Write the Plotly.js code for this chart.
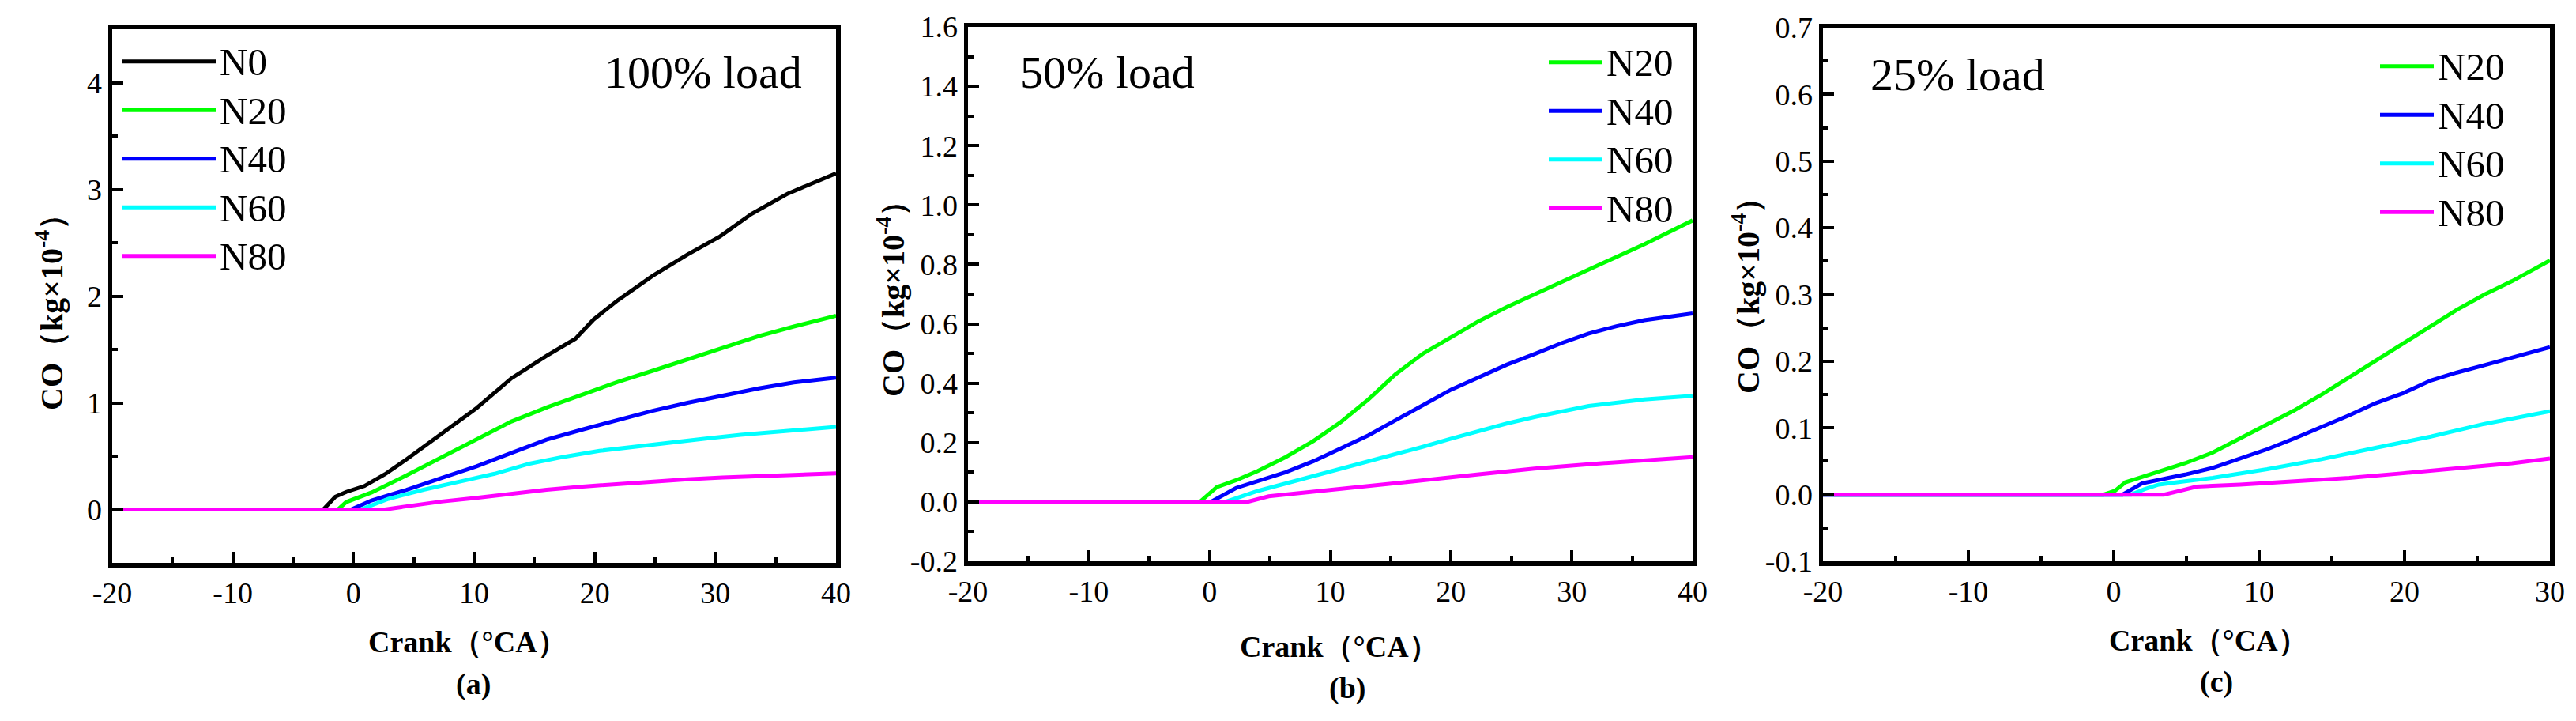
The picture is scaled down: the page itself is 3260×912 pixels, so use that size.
<!DOCTYPE html>
<html>
<head>
<meta charset="utf-8">
<script src="https://cdn.plot.ly/plotly-3.0.1.min.js"></script>
<style>html,body{margin:0;padding:0;background:#fff;}#chart{width:3260px;height:912px;}</style>
</head>
<body>
<div id="chart"></div>
<script>
// ---------- DATA ----------
const seriesNames = ['N0', 'N20', 'N40', 'N60', 'N80'];
const seriesColors = ['#000000', '#00ff00', '#0000ff', '#00ffff', '#ff00ff'];

// (a) 100% load
const aX_N0  = [-20, -2.5, -1.5, -0.6, 0.9, 2.6, 4.4, 7.3, 10.2, 13.1, 16.0, 18.4, 19.9, 21.9, 24.8, 27.7, 30.4, 33.0, 36.0, 40];
const aY_N0  = [0, 0, 0.12, 0.165, 0.22, 0.33, 0.47, 0.715, 0.95, 1.23, 1.44, 1.60, 1.78, 1.96, 2.19, 2.39, 2.56, 2.77, 2.96, 3.15];
const aX_N20 = [-20, -1.3, -0.6, 1.5, 4.4, 7.3, 10.2, 13.1, 16.1, 19.0, 21.9, 24.8, 27.7, 30.6, 33.6, 36.5, 40];
const aY_N20 = [0, 0, 0.07, 0.16, 0.32, 0.49, 0.665, 0.825, 0.96, 1.075, 1.195, 1.30, 1.41, 1.52, 1.625, 1.715, 1.815];
const aX_N40 = [-20, -0.2, 1.5, 4.4, 7.3, 10.2, 13.1, 16.0, 19.0, 21.9, 24.8, 27.7, 30.6, 33.6, 36.5, 40];
const aY_N40 = [0, 0, 0.085, 0.185, 0.295, 0.405, 0.53, 0.655, 0.75, 0.84, 0.925, 1.0, 1.07, 1.135, 1.19, 1.235];
const aX_N60 = [-20, 0.6, 2.9, 5.8, 8.75, 11.7, 14.6, 17.5, 20.4, 23.35, 26.3, 29.2, 32.1, 35.0, 40];
const aY_N60 = [0, 0, 0.10, 0.185, 0.26, 0.335, 0.43, 0.495, 0.55, 0.59, 0.635, 0.665, 0.70, 0.73, 0.775];
const aX_N80 = [-20, 2.6, 4.1, 7.3, 10.2, 13.1, 16.0, 19.0, 21.9, 24.8, 27.7, 30.6, 33.6, 36.5, 40];
const aY_N80 = [0, 0, 0.025, 0.075, 0.11, 0.148, 0.185, 0.215, 0.24, 0.264, 0.284, 0.30, 0.313, 0.326, 0.338];

// (b) 50% load
const bX_N20 = [-20, -0.8, 0.6, 2.2, 4.0, 6.3, 8.6, 10.9, 13.15, 15.4, 17.7, 20.0, 22.3, 24.6, 26.9, 29.15, 31.4, 33.7, 36.0, 40];
const bY_N20 = [0, 0, 0.05, 0.073, 0.104, 0.151, 0.205, 0.27, 0.345, 0.43, 0.50, 0.555, 0.609, 0.656, 0.699, 0.741, 0.783, 0.826, 0.868, 0.948];
const bX_N40 = [-20, 0.1, 2.2, 4.0, 6.3, 8.6, 10.9, 13.15, 15.4, 17.7, 20.0, 22.3, 24.6, 26.9, 29.15, 31.4, 33.7, 36.0, 40];
const bY_N40 = [0, 0, 0.047, 0.07, 0.10, 0.137, 0.18, 0.224, 0.275, 0.327, 0.378, 0.42, 0.462, 0.498, 0.535, 0.567, 0.592, 0.612, 0.635];
const bX_N60 = [-20, 1.3, 4.0, 6.3, 8.6, 10.9, 13.15, 15.4, 17.7, 20.0, 22.3, 24.6, 26.9, 29.15, 31.4, 36.0, 40];
const bY_N60 = [0, 0, 0.037, 0.062, 0.084, 0.109, 0.135, 0.158, 0.186, 0.213, 0.239, 0.264, 0.286, 0.306, 0.323, 0.345, 0.357];
const bX_N80 = [-20, 3.1, 4.9, 8.6, 13.15, 17.7, 22.3, 26.9, 31.4, 36.0, 40];
const bY_N80 = [0, 0, 0.019, 0.034, 0.053, 0.073, 0.093, 0.112, 0.127, 0.14, 0.151];

// (c) 25% load
const cX_N20 = [-20, -0.7, 0.1, 0.8, 1.6, 3.1, 4.9, 6.8, 8.7, 10.55, 12.4, 14.3, 16.2, 18.0, 19.9, 21.8, 23.6, 25.5, 27.4, 30];
const cY_N20 = [0, 0, 0.006, 0.0185, 0.024, 0.034, 0.047, 0.063, 0.084, 0.104, 0.126, 0.15, 0.176, 0.202, 0.228, 0.254, 0.277, 0.30, 0.32, 0.351];
const cX_N40 = [-20, 0.6, 1.95, 3.1, 4.9, 6.8, 8.7, 10.55, 12.4, 14.3, 16.2, 18.0, 19.9, 21.8, 23.6, 25.5, 27.4, 30];
const cY_N40 = [0, 0, 0.017, 0.022, 0.03, 0.04, 0.054, 0.068, 0.084, 0.101, 0.119, 0.137, 0.152, 0.171, 0.183, 0.194, 0.205, 0.221];
const cX_N60 = [-20, 1.2, 2.1, 3.1, 4.9, 6.8, 10.55, 14.3, 18.0, 21.8, 25.5, 30];
const cY_N60 = [0, 0, 0.008, 0.015, 0.02, 0.025, 0.038, 0.053, 0.07, 0.087, 0.106, 0.125];
const cX_N80 = [-20, 3.45, 4.6, 5.7, 8.7, 12.4, 16.2, 19.9, 23.6, 27.4, 30];
const cY_N80 = [0, 0, 0.006, 0.012, 0.015, 0.02, 0.025, 0.032, 0.039, 0.047, 0.054];

// tick labels
const xTickValsAB = [-20, -10, 0, 10, 20, 30, 40];
const xTickTextAB = ['-20', '-10', '0', '10', '20', '30', '40'];
const xTickValsC  = [-20, -10, 0, 10, 20, 30];
const xTickTextC  = ['-20', '-10', '0', '10', '20', '30'];
const yTickValsA  = [0, 1, 2, 3, 4];
const yTickTextA  = ['0', '1', '2', '3', '4'];
const yTickValsB  = [-0.2, 0, 0.2, 0.4, 0.6, 0.8, 1.0, 1.2, 1.4, 1.6];
const yTickTextB  = ['-0.2', '0.0', '0.2', '0.4', '0.6', '0.8', '1.0', '1.2', '1.4', '1.6'];
const yTickValsC  = [-0.1, 0, 0.1, 0.2, 0.3, 0.4, 0.5, 0.6, 0.7];
const yTickTextC  = ['-0.1', '0.0', '0.1', '0.2', '0.3', '0.4', '0.5', '0.6', '0.7'];

const panelTexts = ['100% load', '50% load', '25% load'];
const panelLabels = ['(a)', '(b)', '(c)'];
const xTitle = 'Crank（°CA）';
const yTitle = 'CO（kg×10<sup>-4</sup>）';

// ---------- BUILD ----------
const W = 3260, H = 912;
const FONT = '"Liberation Serif", "Times New Roman", serif';
const fx = px => px / W;
const fy = py => (H - py) / H;

function tr(x, y, idx, xa, ya, leg) {
  return {
    x: x, y: y, type: 'scatter', mode: 'lines',
    name: '<span style="font-size:49px">' + seriesNames[idx] + '</span>', legend: leg,
    xaxis: xa, yaxis: ya,
    line: {color: seriesColors[idx], width: 5},
    hoverinfo: 'skip'
  };
}

const data = [
  tr(aX_N0, aY_N0, 0, 'x', 'y', 'legend'),
  tr(aX_N20, aY_N20, 1, 'x', 'y', 'legend'),
  tr(aX_N40, aY_N40, 2, 'x', 'y', 'legend'),
  tr(aX_N60, aY_N60, 3, 'x', 'y', 'legend'),
  tr(aX_N80, aY_N80, 4, 'x', 'y', 'legend'),
  tr(bX_N20, bY_N20, 1, 'x2', 'y2', 'legend2'),
  tr(bX_N40, bY_N40, 2, 'x2', 'y2', 'legend2'),
  tr(bX_N60, bY_N60, 3, 'x2', 'y2', 'legend2'),
  tr(bX_N80, bY_N80, 4, 'x2', 'y2', 'legend2'),
  tr(cX_N20, cY_N20, 1, 'x3', 'y3', 'legend3'),
  tr(cX_N40, cY_N40, 2, 'x3', 'y3', 'legend3'),
  tr(cX_N60, cY_N60, 3, 'x3', 'y3', 'legend3'),
  tr(cX_N80, cY_N80, 4, 'x3', 'y3', 'legend3')
];

function axis(range, tv, tt, minorDtick, domain, anchor) {
  return {
    range: range, domain: domain, anchor: anchor,
    tickmode: 'array', tickvals: tv, ticktext: tt,
    ticks: 'inside', ticklen: 14, tickwidth: 4, tickcolor: '#000',
    minor: {tickmode: 'linear', tick0: 0, dtick: minorDtick, ticks: 'inside', ticklen: 7, tickwidth: 4, tickcolor: '#000', showgrid: false},
    showline: true, linewidth: 5.5, linecolor: '#000', mirror: true,
    showgrid: false, zeroline: false, fixedrange: true,
    tickfont: {family: FONT, size: 38, color: '#000'}
  };
}

const pa = {x0: 142, x1: 1058, y0: 37, y1: 712};
const pb = {x0: 1225, x1: 2142, y0: 34, y1: 710};
const pc = {x0: 2307, x1: 3227, y0: 35, y1: 710};

function legendAt(px, py, itemW) {
  return {
    x: fx(px), y: fy(py), xanchor: 'left', yanchor: 'top',
    font: {family: FONT, size: 45, color: '#000'},
    bgcolor: 'rgba(0,0,0,0)', borderwidth: 0, itemwidth: itemW, tracegroupgap: 0
  };
}

const titleFont = {family: FONT, size: 38, color: '#000', weight: 'bold'};
const yTitleFont = {family: FONT, size: 40, color: '#000', weight: 'bold'};
function ann(text, px, py, opts) {
  return Object.assign({text: text, x: fx(px), y: fy(py), xref: 'paper', yref: 'paper', showarrow: false,
    xanchor: 'center', yanchor: 'middle', font: titleFont}, opts || {});
}
const loadFont = {family: FONT, size: 58, color: '#000'};

const layout = {
  width: W, height: H,
  margin: {l: 0, r: 0, t: 0, b: 0},
  paper_bgcolor: '#fff', plot_bgcolor: '#fff',
  showlegend: true,
  xaxis:  axis([-20, 40], xTickValsAB, xTickTextAB, 5, [fx(pa.x0), fx(pa.x1)], 'y'),
  yaxis:  axis([-0.5, 4.5], yTickValsA, yTickTextA, 0.5, [fy(pa.y1), fy(pa.y0)], 'x'),
  xaxis2: axis([-20, 40], xTickValsAB, xTickTextAB, 5, [fx(pb.x0), fx(pb.x1)], 'y2'),
  yaxis2: axis([-0.2, 1.6], yTickValsB, yTickTextB, 0.1, [fy(pb.y1), fy(pb.y0)], 'x2'),
  xaxis3: axis([-20, 30], xTickValsC, xTickTextC, 5, [fx(pc.x0), fx(pc.x1)], 'y3'),
  yaxis3: axis([-0.1, 0.7], yTickValsC, yTickTextC, 0.05, [fy(pc.y1), fy(pc.y0)], 'x3'),
  legend: legendAt(150, 42, 118),
  legend2: legendAt(1955, 43, 68),
  legend3: legendAt(3007, 48, 68),
  annotations: [
    ann(panelTexts[0], 1017, 92, {xanchor: 'right', font: loadFont}),
    ann(panelTexts[1], 1289, 92, {xanchor: 'left', font: loadFont}),
    ann(panelTexts[2], 2365, 95, {xanchor: 'left', font: loadFont}),
    ann(xTitle, 592, 812),
    ann(xTitle, 1695, 818),
    ann(xTitle, 2795, 810),
    ann(panelLabels[0], 599, 865),
    ann(panelLabels[1], 1705, 870),
    ann(panelLabels[2], 2805, 862),
    ann(yTitle, 62, 385, {textangle: -90, font: yTitleFont}),
    ann(yTitle, 1127, 368, {textangle: -90, font: yTitleFont}),
    ann(yTitle, 2209, 364, {textangle: -90, font: yTitleFont})
  ]
};

Plotly.newPlot('chart', data, layout, {displayModeBar: false, staticPlot: true});
</script>
</body>
</html>
